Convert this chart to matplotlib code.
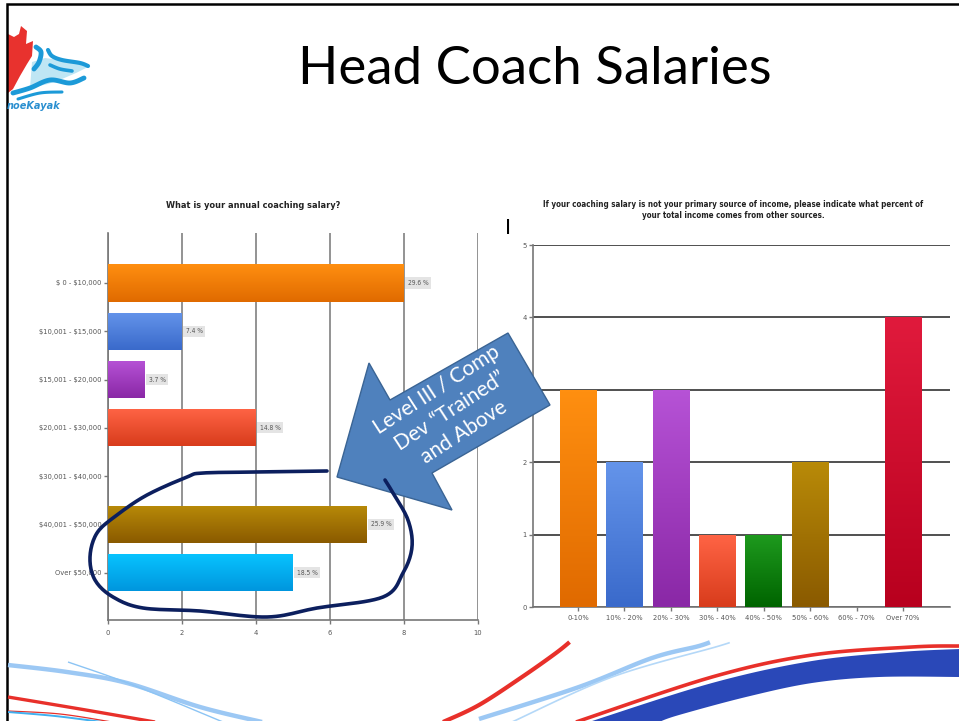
"""
Head Coach Salaries slide: two survey bar charts with slide decorations.
"""

import numpy as np
import matplotlib
matplotlib.use('Agg')
import matplotlib.pyplot as plt
from matplotlib.colors import LinearSegmentedColormap
from matplotlib.patches import Polygon

# ---- data -------------------------------------------------------------
salary_bands = ['\\$ 0 - \\$10,000', '\\$10,001 - \\$15,000', '\\$15,001 - \\$20,000',
                '\\$20,001 - \\$30,000', '\\$30,001 - \\$40,000', '\\$40,001 - \\$50,000',
                'Over \\$50,000']
salary_counts = [8, 2, 1, 4, 0, 7, 5]
salary_pct = ['29.6 %', '7.4 %', '3.7 %', '14.8 %', '', '25.9 %', '18.5 %']
salary_colors = [('#ff8f10', '#e06a00'), ('#6494ea', '#3a6acb'),
                 ('#b652d6', '#8a28a6'), ('#ff6445', '#d83c1c'),
                 ('#888888', '#666666'), ('#b88a08', '#8a5a00'),
                 ('#08c4ff', '#0096de')]

income_bands = ['0-10%', '10% - 20%', '20% - 30%', '30% - 40%', '40% - 50%',
                '50% - 60%', '60% - 70%', 'Over 70%']
income_counts = [3, 2, 3, 1, 1, 2, 0, 4]
income_colors = [('#ff8f10', '#e06a00'), ('#6494ea', '#3a6acb'),
                 ('#b652d6', '#8a28a6'), ('#ff6445', '#d83c1c'),
                 ('#1e9a1e', '#006400'), ('#b88a08', '#8a5a00'),
                 ('#888888', '#666666'), ('#e01a3c', '#b8001e')]

W, H = 959, 721
NARROW = dict(family='DejaVu Sans', stretch='condensed')
GRAD = np.linspace(0, 1, 64).reshape(-1, 1)


def shade_bar(ax, bar, c_top, c_bot, horizontal):
    """Fill a bar patch with a top-to-bottom gradient."""
    x0, y0 = bar.get_x(), bar.get_y()
    w, h = bar.get_width(), bar.get_height()
    if w == 0 or h == 0:
        return
    cmap = LinearSegmentedColormap.from_list('g', [c_top, c_bot])
    if horizontal:
        ext = (x0, x0 + w, y0 + h, y0)
    else:
        ext = (x0, x0 + w, y0, y0 + h)
    im = ax.imshow(GRAD, extent=ext, cmap=cmap, aspect='auto',
                   origin='upper', zorder=3, interpolation='bilinear')
    im.set_clip_path(bar)


def smooth(pts, n=12):
    """Catmull-Rom curve through the given pixel points."""
    p = np.asarray(pts, dtype=float)
    p = np.vstack([p[0], p, p[-1]])
    out = []
    t = np.linspace(0, 1, n, endpoint=False)[:, None]
    for i in range(1, len(p) - 2):
        p0, p1, p2, p3 = p[i - 1], p[i], p[i + 1], p[i + 2]
        out.append(0.5 * ((2 * p1) + (-p0 + p2) * t +
                          (2 * p0 - 5 * p1 + 4 * p2 - p3) * t ** 2 +
                          (-p0 + 3 * p1 - 3 * p2 + p3) * t ** 3))
    out.append(p[-2][None, :])
    return np.vstack(out)


def style_ticks(ax):
    ax.tick_params(colors='#777777', labelcolor='#555555', labelsize=5.4,
                   length=3, width=1, pad=1.5)
    for lab in ax.get_xticklabels() + ax.get_yticklabels():
        lab.set_family(NARROW['family'])
        lab.set_stretch(NARROW['stretch'])
    for s in ['top', 'right']:
        ax.spines[s].set_visible(False)
    for s in ['left', 'bottom']:
        ax.spines[s].set_color('#777777')
        ax.spines[s].set_linewidth(1.2)


fig = plt.figure(figsize=(W / 100, H / 100), dpi=100)
fig.patch.set_facecolor('white')

# ---- left chart: annual coaching salary --------------------------------
ax1 = fig.add_axes([108 / W, 1 - 620 / H, 370 / W, 387 / H])
ypos = np.arange(len(salary_bands))
bars = ax1.barh(ypos, salary_counts, height=0.77, color='none', zorder=3)
for bar, (ct, cb) in zip(bars, salary_colors):
    shade_bar(ax1, bar, ct, cb, horizontal=True)
for y, v, lab in zip(ypos, salary_counts, salary_pct):
    if lab:
        ax1.text(v + 0.1, y, lab, fontsize=4.8, color='#555555',
                 va='center', ha='left', zorder=4, **NARROW,
                 bbox=dict(facecolor='#e4e4e4', edgecolor='none', pad=1.8))
ax1.set_xlim(0, 10)
ax1.set_ylim(6.98, -1.035)
ax1.set_xticks([0, 2, 4, 6, 8, 10])
ax1.set_yticks(ypos)
ax1.set_yticklabels(salary_bands)
ax1.grid(axis='x', color='#8a8a8a', linewidth=1.3, zorder=1)
ax1.set_axisbelow(True)
style_ticks(ax1)
ax1.tick_params(axis='x', pad=4)
fig.text(253 / W, 1 - 205 / H, 'What is your annual coaching salary?',
         fontsize=6.6, fontweight='bold', color='#222222',
         ha='center', va='center', **NARROW)

# ---- right chart: share of income from other sources -------------------
ax2 = fig.add_axes([533 / W, 1 - 607 / H, 417 / W, 362 / H])
xpos = np.arange(len(income_bands))
bars = ax2.bar(xpos, income_counts, width=0.79, color='none', zorder=3)
for bar, (ct, cb) in zip(bars, income_colors):
    shade_bar(ax2, bar, ct, cb, horizontal=False)
ax2.set_xlim(-0.97, 8.01)
ax2.set_ylim(0, 5)
ax2.set_yticks([0, 1, 2, 3, 4, 5])
ax2.set_xticks(xpos)
ax2.set_xticklabels(income_bands)
ax2.grid(axis='y', color='#505050', linewidth=1.4, zorder=1)
ax2.set_axisbelow(True)
style_ticks(ax2)
ax2.tick_params(axis='x', pad=3)
fig.text(733 / W, 1 - 210 / H,
         'If your coaching salary is not your primary source of income, '
         'please indicate what percent of\nyour total income comes from '
         'other sources.',
         fontsize=5.8, fontweight='bold', color='#222222',
         ha='center', va='center', linespacing=1.15, **NARROW)

# ---- slide overlay (pixel coordinates) ---------------------------------
ov = fig.add_axes([0, 0, 1, 1], zorder=10)
ov.set_xlim(0, W)
ov.set_ylim(H, 0)
ov.axis('off')
ov.patch.set_alpha(0)

# slide frame
ov.plot([7, 7, W], [H, 4, 4], color='black', linewidth=1.8,
        solid_joinstyle='miter')

ov.text(535, 70, 'Head Coach Salaries', fontsize=38,
        family=['Lato', 'DejaVu Sans'], ha='center', va='center',
        color='black')
ov.text(508, 228, 'I', fontsize=16, family=['Liberation Sans', 'DejaVu Sans'],
        ha='center', va='center', color='black')

# logo
ov.add_patch(Polygon([(8, 34), (14, 37), (19, 34), (21, 26), (27, 31),
                      (26, 44), (33, 41), (32, 56), (27, 64), (20, 76),
                      (13, 89), (8, 93)],
                     closed=True, facecolor='#e8322e', edgecolor='none'))
ov.add_patch(Polygon([(32, 62), (45, 58), (60, 60), (75, 63), (88, 67),
                      (76, 73), (62, 79), (48, 84), (30, 88)],
                     closed=True, facecolor='#bfe6f4', edgecolor='none'))
for pts, lw in [([(36, 47), (41, 52), (39, 62), (34, 69)], 3.5),
                ([(48, 50), (52, 56), (62, 60), (80, 63), (88, 66)], 3.0),
                ([(50, 65), (60, 69), (72, 71)], 2.6),
                ([(13, 93), (30, 88), (50, 80), (70, 83), (84, 78)], 3.5),
                ([(18, 99), (40, 93), (62, 92)], 2.2)]:
    c = smooth(pts)
    ov.plot(c[:, 0], c[:, 1], color='#1c9ad8', linewidth=lw,
            solid_capstyle='round')
ov.text(7, 106, 'noeKayak', fontsize=7, style='italic', fontweight='bold',
        color='#2a8fd0', ha='left', va='center')

# bottom swooshes
clip_top = 645
swooshes = [
    ([(8, 665), (67, 672), (127, 683), (200, 707), (262, 722)], '#9cc8f4', 3.2),
    ([(68, 662), (133, 685), (223, 722)], '#8cc4f4', 1.0),
    ([(8, 697), (80, 709), (155, 722)], '#e8302a', 2.4),
    ([(8, 711), (60, 714), (112, 722)], '#e8302a', 0.9),
    ([(8, 712), (55, 716), (102, 722)], '#40b0f0', 1.4),
    ([(443, 722), (479, 705), (522, 677), (556, 653), (572, 640)], '#e8302a', 3.0),
    ([(479, 719), (579, 687), (652, 658), (699, 646), (715, 640)], '#9cc8f4', 3.2),
    ([(512, 722), (612, 677), (719, 646), (735, 640)], '#b4d8f8', 1.2),
    ([(576, 722), (712, 677), (812, 655), (912, 647), (960, 646)], '#e8302a', 2.6),
]
for pts, col, lw in swooshes:
    c = smooth(pts)
    c = c[c[:, 1] >= clip_top - 3]
    ov.plot(c[:, 0], c[:, 1], color=col, linewidth=lw, solid_capstyle='butt')
top_edge = smooth([(589, 722), (712, 683), (812, 661), (900, 652), (960, 649)])
bot_edge = smooth([(960, 677), (879, 677), (812, 683), (746, 697), (679, 715),
                   (659, 722)])
band = np.vstack([top_edge, bot_edge])
ov.add_patch(Polygon(band, closed=True, facecolor='#2a48b8', edgecolor='none'))

# hand-drawn circle around the top salary bands
loop = smooth([(327, 471), (260, 472), (203, 473), (187, 477), (147, 495),
               (117, 515), (97, 533), (90, 557), (95, 580), (113, 597),
               (143, 608), (200, 611), (267, 617), (317, 608), (383, 597),
               (403, 573), (412, 547), (408, 520), (393, 493), (385, 480)])
ov.plot(loop[:, 0], loop[:, 1], color='#0c1f5e', linewidth=2.6,
        solid_capstyle='round', solid_joinstyle='round')

# callout arrow
arrow = [(337, 477), (369, 363), (390, 400), (508, 333), (550, 405),
         (432, 473), (452, 510)]
ov.add_patch(Polygon(arrow, closed=True, facecolor='#4f81bd',
                     edgecolor='#3a6494', linewidth=1.0))
ov.text(450, 411, 'Level III / Comp\nDev \u201cTrained\u201d\nand Above',
        fontsize=15, family=['Lato', 'DejaVu Sans'], color='white',
        rotation=33, rotation_mode='anchor', ha='center', va='center',
        linespacing=1.3)

fig.savefig('out.png', dpi=100)
